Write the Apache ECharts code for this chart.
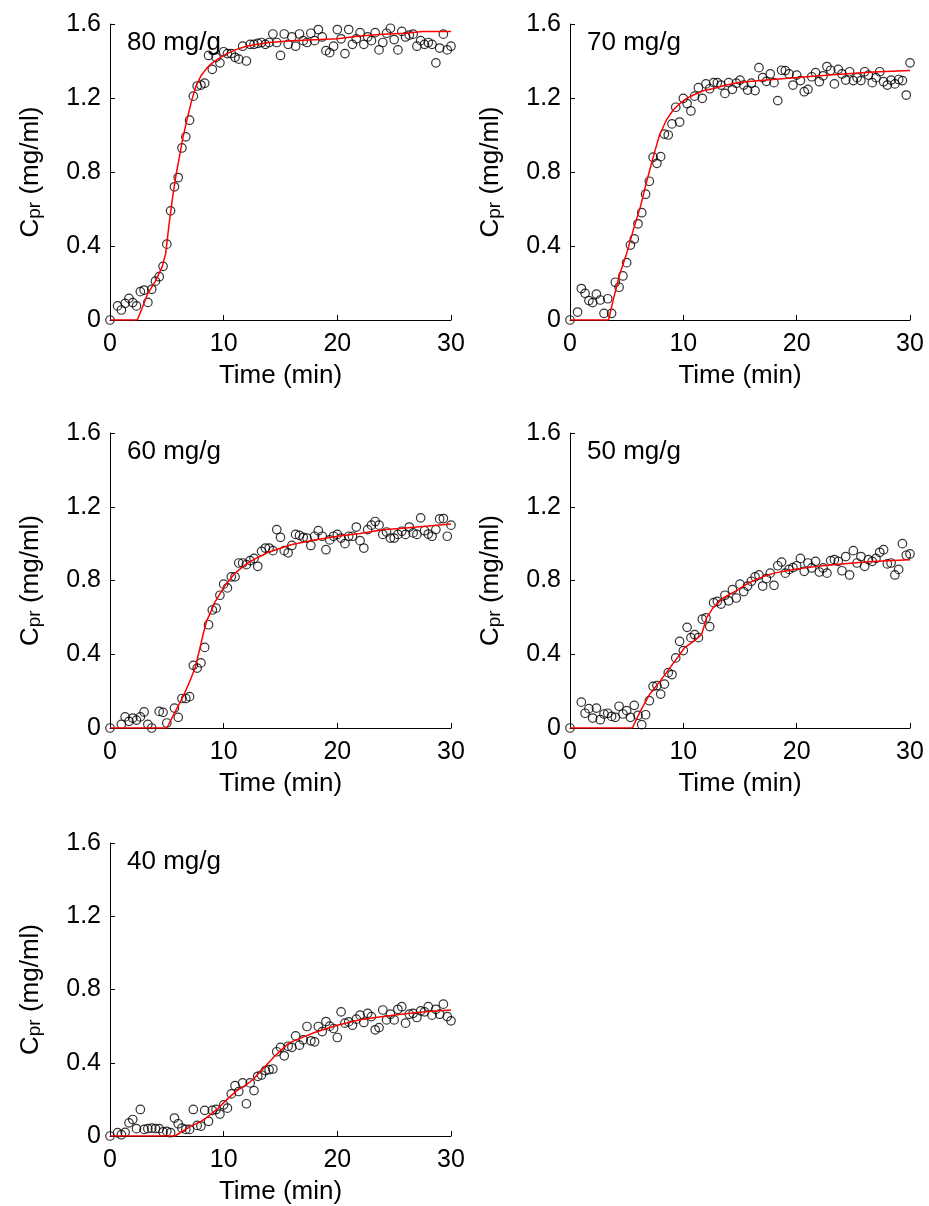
<!DOCTYPE html>
<html>
<head>
<meta charset="utf-8">
<script src="https://cdn.jsdelivr.net/npm/echarts@6/dist/echarts.min.js"></script>
<style>
html,body{margin:0;padding:0;background:#fff;}
#chart{width:929px;height:1206px;}
</style>
</head>
<body>
<div id="chart"></div>
<script>
// Sampling times (min), every 20 s
const times = [0,0.33,0.67,1,1.33,1.67,2,2.33,2.67,3,3.33,3.67,4,4.33,4.67,5,5.33,5.67,6,6.33,6.67,7,7.33,7.67,8,8.33,8.67,9,9.33,9.67,10,10.33,10.67,11,11.33,11.67,12,12.33,12.67,13,13.33,13.67,14,14.33,14.67,15,15.33,15.67,16,16.33,16.67,17,17.33,17.67,18,18.33,18.67,19,19.33,19.67,20,20.33,20.67,21,21.33,21.67,22,22.33,22.67,23,23.33,23.67,24,24.33,24.67,25,25.33,25.67,26,26.33,26.67,27,27.33,27.67,28,28.33,28.67,29,29.33,29.67,30];

// Measured C_pr (mg/ml); null = no visible sample
const c80 = [0,null,0.076,0.054,0.09,0.117,0.094,0.076,0.153,0.162,
0.095,0.166,0.21,0.234,0.29,0.41,0.59,0.72,0.77,0.93,
0.99,1.08,1.21,1.265,1.27,1.28,1.43,1.355,1.42,1.39,
1.45,1.44,1.44,1.42,1.41,1.48,1.40,1.49,1.49,1.495,
1.50,1.49,1.50,1.546,1.50,1.43,1.546,1.49,1.53,1.48,
1.546,1.51,1.50,1.55,1.51,1.57,1.53,1.456,1.445,1.48,
1.57,1.52,1.44,1.57,1.49,1.52,1.553,1.49,1.53,1.51,
1.553,1.46,1.50,1.55,1.577,1.516,1.46,1.56,1.53,1.54,
1.545,1.48,1.51,1.49,1.50,1.49,1.39,1.47,1.545,1.46,
1.48];
const c70 = [0,null,0.043,0.17,0.144,0.105,0.094,0.14,0.108,0.036,
0.115,0.036,0.204,0.177,0.238,0.31,0.405,0.438,0.52,0.58,
0.68,0.75,0.88,0.847,0.883,1.005,1.0,1.06,1.15,1.07,
1.198,1.17,1.13,1.21,1.256,1.198,1.276,1.25,1.283,1.283,
1.27,1.225,1.283,1.247,1.28,1.297,1.27,1.243,1.28,1.24,
1.364,1.31,1.29,1.33,1.283,1.186,1.35,1.348,1.33,1.27,
1.324,1.294,1.234,1.247,1.315,1.337,1.288,1.32,1.37,1.35,
1.276,1.355,1.33,1.297,1.342,1.294,1.31,1.294,1.342,1.324,
1.283,1.31,1.342,1.288,1.27,1.297,1.276,1.30,1.294,1.216,
1.39];
const c60 = [0,null,null,0.02,0.06,0.036,0.054,0.043,0.06,0.087,
0.02,0.0,null,0.09,0.085,0.027,null,0.108,0.058,0.16,
0.16,0.17,0.34,0.325,0.353,0.437,0.56,0.64,0.65,0.72,
0.78,0.76,0.82,0.82,0.895,0.895,0.886,0.908,0.92,0.877,
0.958,0.976,0.976,0.962,1.076,1.034,0.962,0.95,0.99,1.05,
1.045,1.034,1.03,0.99,1.04,1.07,1.04,0.967,1.02,1.04,
1.05,1.03,1.0,1.04,1.04,1.09,1.016,0.976,1.076,1.10,
1.12,1.10,1.05,1.063,1.03,1.03,1.05,1.067,1.05,1.09,
1.058,1.05,1.14,1.07,1.052,1.04,1.076,1.134,1.136,1.04,
1.10];
const c50 = [0,null,null,0.14,0.08,0.105,0.054,0.108,0.045,0.076,
0.08,0.063,0.058,0.118,0.076,0.094,0.058,0.123,0.069,0.018,
0.072,0.148,0.226,0.23,0.184,0.238,0.30,0.29,0.38,0.47,
0.42,0.546,0.49,0.506,0.49,0.59,0.597,0.55,0.68,0.687,
0.672,0.72,0.69,0.75,0.705,0.78,0.74,0.77,0.796,0.82,
0.83,0.77,0.81,0.84,0.774,0.88,0.90,0.84,0.86,0.87,
0.88,0.92,0.85,0.895,0.868,0.904,0.846,0.868,0.84,0.908,
0.913,0.904,0.853,0.93,0.83,0.962,0.895,0.93,0.877,0.913,
0.904,0.92,0.953,0.967,0.89,0.895,0.83,0.86,1.0,0.937,
0.944];
const c40 = [0,null,0.018,0.007,0.02,0.072,0.09,0.04,0.145,0.036,
0.04,0.043,0.04,0.04,0.022,0.025,0.018,0.098,0.067,0.043,
0.036,0.036,0.145,0.058,0.054,0.14,0.08,0.14,0.145,0.12,
0.17,0.152,0.23,0.275,0.243,0.29,0.176,0.29,0.248,0.326,
0.333,0.357,0.362,0.366,0.46,0.484,0.438,0.49,0.484,0.547,
0.496,0.525,0.598,0.52,0.514,0.598,0.57,0.625,0.60,0.587,
0.538,0.678,0.616,0.623,0.605,0.638,0.66,0.62,0.67,0.652,
0.58,0.592,0.688,0.634,0.665,0.634,0.692,0.706,0.616,0.665,
0.67,0.647,0.683,0.678,0.706,0.66,0.692,0.665,0.72,0.652,
0.629];

// Model fit curves (knot times and values)
const fitT80 = [0,2.4,2.8,3.3,4.0,4.6,4.9,5.2,5.5,5.8,6.1,6.4,6.8,7.2,7.6,8.0,8.5,9,10,11,12,13,14,16,18,20,22,24,26,27.5,30];
const fitC80 = [0,0,0.06,0.14,0.21,0.29,0.36,0.52,0.66,0.78,0.88,0.98,1.09,1.19,1.27,1.32,1.36,1.39,1.43,1.46,1.48,1.49,1.50,1.51,1.515,1.52,1.535,1.545,1.55,1.56,1.56];
const fitT70 = [0,3.4,3.9,4.4,5.0,5.6,6.2,6.8,7.35,7.9,8.5,9.1,9.7,10.3,10.9,11.8,12.6,13.8,15,17.9,20.9,23.8,26.8,30];
const fitC70 = [0,0,0.13,0.25,0.36,0.49,0.61,0.757,0.883,1.0,1.08,1.135,1.17,1.198,1.216,1.24,1.25,1.27,1.285,1.30,1.315,1.328,1.34,1.348];
const fitT60 = [0,5.0,5.5,6.0,6.5,7.0,7.5,7.9,8.2,8.5,8.8,9.2,9.7,10.2,11,12,13,14,15,16,18,20,22,24,26,28,30];
const fitC60 = [0,0,0.06,0.12,0.18,0.25,0.33,0.43,0.51,0.58,0.62,0.68,0.73,0.78,0.84,0.89,0.925,0.955,0.975,0.995,1.02,1.04,1.055,1.075,1.085,1.095,1.107];
const fitT50 = [0,5.5,6.2,7.0,7.9,8.8,9.7,10.1,10.9,11.6,12.05,12.6,13.5,14.7,15.7,17,18,20,22,24,26,28,30];
const fitC50 = [0,0,0.09,0.18,0.25,0.325,0.40,0.435,0.47,0.506,0.597,0.65,0.705,0.745,0.785,0.82,0.84,0.862,0.878,0.89,0.90,0.907,0.913];
const fitT40 = [0,5.7,6.5,7.0,8.0,8.5,9.4,10.3,11.1,12.0,12.6,13.5,14.4,15.0,15.8,17,18,20,22,24,26,28,30];
const fitC40 = [0,0,0.03,0.05,0.08,0.10,0.145,0.20,0.245,0.28,0.31,0.37,0.43,0.466,0.51,0.54,0.565,0.605,0.635,0.652,0.668,0.68,0.688];

const panelLabels = ['80 mg/g','70 mg/g','60 mg/g','50 mg/g','40 mg/g'];
const measured = [c80,c70,c60,c50,c40];
const fitTimes = [fitT80,fitT70,fitT60,fitT50,fitT40];
const fitValues = [fitC80,fitC70,fitC60,fitC50,fitC40];
const xTicks = [0,10,20,30];
const yTicks = [0,0.4,0.8,1.2,1.6];
const xName = 'Time (min)';
const yName = 'C{s|pr} (mg/ml)';

// Layout (pixels)
const FONT = 'Liberation Sans, Arial, Helvetica, sans-serif';
const grids = [
  {left:110, top:24, width:341, height:296},
  {left:570, top:24, width:340, height:296},
  {left:110, top:433, width:341, height:295},
  {left:570, top:433, width:340, height:295},
  {left:110, top:843, width:341, height:294}
];

const option = {
  animation:false,
  backgroundColor:'#fff',
  title: [],
  grid: [],
  xAxis: [],
  yAxis: [],
  series: []
};

grids.forEach((g, k) => {
  option.grid.push(Object.assign({containLabel:false}, g));
  option.title.push({
    text: panelLabels[k], left: g.left + 12, top: g.top + 1,
    textStyle:{fontFamily:FONT, fontSize:26, fontWeight:'normal', color:'#000'}
  });
  option.xAxis.push({
    gridIndex:k, type:'value', min:xTicks[0], max:xTicks[xTicks.length-1],
    interval:xTicks[1]-xTicks[0],
    name:xName, nameLocation:'middle', nameGap:43,
    nameTextStyle:{fontFamily:FONT, fontSize:26, color:'#000'},
    axisLine:{show:true, onZero:false, lineStyle:{color:'#000', width:1}},
    axisTick:{show:true, inside:true, length:5, lineStyle:{color:'#000'}},
    axisLabel:{fontFamily:FONT, fontSize:25, color:'#000', margin:12},
    splitLine:{show:false}
  });
  option.yAxis.push({
    gridIndex:k, type:'value', min:yTicks[0], max:yTicks[yTicks.length-1],
    interval:yTicks[1]-yTicks[0],
    name:yName, nameLocation:'middle', nameGap:66,
    nameTextStyle:{fontFamily:FONT, fontSize:26, color:'#000', lineHeight:26,
      rich:{s:{fontFamily:FONT, fontSize:19, color:'#000', verticalAlign:'bottom', lineHeight:2}}},
    axisLine:{show:true, onZero:false, lineStyle:{color:'#000', width:1}},
    axisTick:{show:true, inside:true, length:5, lineStyle:{color:'#000'}},
    axisLabel:{fontFamily:FONT, fontSize:25, color:'#000', margin:9},
    splitLine:{show:false}
  });
  const pts = [];
  times.forEach((t, i) => { if (measured[k][i] !== null) pts.push([t, measured[k][i]]); });
  option.series.push({
    type:'scatter', xAxisIndex:k, yAxisIndex:k, data:pts, clip:false,
    symbol:'circle', symbolSize:8.5,
    itemStyle:{color:'rgba(0,0,0,0)', borderColor:'#000', borderWidth:1.2},
    z:2
  });
  option.series.push({
    type:'line', xAxisIndex:k, yAxisIndex:k,
    data: fitTimes[k].map((t, i) => [t, fitValues[k][i]]),
    showSymbol:false, symbol:'none', smooth:false,
    lineStyle:{color:'#ff0000', width:1.5},
    z:3
  });
});

const chart = echarts.init(document.getElementById('chart'), null, {renderer:'canvas'});
chart.setOption(option);
</script>
</body>
</html>
